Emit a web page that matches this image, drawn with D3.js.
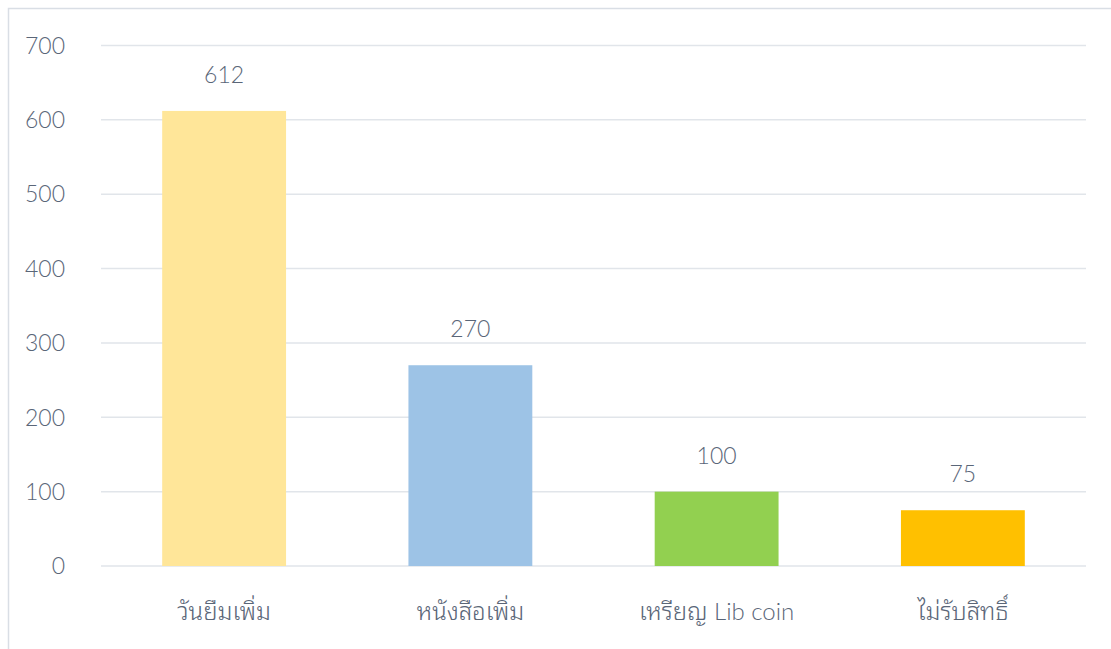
<!DOCTYPE html>
<html>
<head>
<meta charset="utf-8">
<script src="https://cdn.jsdelivr.net/npm/d3@7"></script>
<style>
  body { margin: 0; background: #fff; }
  text { font-family: Lato, "Noto Sans", "DejaVu Sans", sans-serif; fill: #5a6678; font-weight: 300; }
  tspan.thai { font-family: "Noto Sans Thai Looped", "Noto Sans Thai", sans-serif; font-weight: 300; }
</style>
</head>
<body>
<div id="chart"></div>
<script>
// chart data
const categories = ["วันยืมเพิ่ม", "หนังสือเพิ่ม", "เหรียญ Lib coin", "ไม่รับสิทธิ์"];
const values = [612, 270, 100, 75];
const colors = ["#ffe699", "#9dc3e6", "#92d050", "#ffc000"];
const yTicks = [0, 100, 200, 300, 400, 500, 600, 700];

const W = 1111, H = 649;
const MARGIN = { top: 45.5, right: 25, bottom: 83, left: 101 };

const svg = d3.select("#chart").append("svg")
  .attr("width", W).attr("height", H);

// outer chart border (runs off the page at right and bottom)
svg.append("rect")
  .attr("x", 8.5).attr("y", 8.5)
  .attr("width", W).attr("height", H)
  .attr("fill", "none").attr("stroke", "#d9dee5").attr("stroke-width", 1.5);

const x = d3.scaleBand()
  .domain(categories)
  .range([MARGIN.left, W - MARGIN.right])
  .paddingInner(0.497).paddingOuter(0.2485);

const y = d3.scaleLinear()
  .domain([0, 700])
  .range([H - MARGIN.bottom, MARGIN.top]);

// gridlines
svg.append("g").selectAll("line").data(yTicks).join("line")
  .attr("x1", MARGIN.left).attr("x2", W - MARGIN.right)
  .attr("y1", (d) => y(d)).attr("y2", (d) => y(d))
  .attr("stroke", "#e1e5ea").attr("stroke-width", 1.5);

// y tick labels
svg.append("g").selectAll("text").data(yTicks).join("text")
  .attr("x", 65).attr("y", (d) => y(d))
  .attr("dy", "0.36em")
  .attr("text-anchor", "end")
  .attr("font-size", 23)
  .text((d) => d);

// bars
svg.append("g").selectAll("rect").data(values).join("rect")
  .attr("x", (d, i) => x(categories[i]))
  .attr("width", x.bandwidth())
  .attr("y", (d) => y(d))
  .attr("height", (d) => y(0) - y(d))
  .attr("fill", (d, i) => colors[i]);

// value labels
svg.append("g").selectAll("text").data(values).join("text")
  .attr("x", (d, i) => x(categories[i]) + x.bandwidth() / 2)
  .attr("y", (d) => y(d) - 28)
  .attr("text-anchor", "middle")
  .attr("font-size", 23)
  .text((d) => d);

// category labels - thai runs and latin runs get their own weight
const cat = svg.append("g").selectAll("text").data(categories).join("text")
  .attr("x", (d) => x(d) + x.bandwidth() / 2)
  .attr("y", H - MARGIN.bottom + 54)
  .attr("text-anchor", "middle")
  .attr("font-size", 24);
cat.selectAll("tspan")
  .data((d) => d.match(/[\u0E00-\u0E7F]+|[^\u0E00-\u0E7F]+/g))
  .join("tspan")
  .attr("class", (s) => (/[\u0E00-\u0E7F]/.test(s) ? "thai" : null))
  .text((s) => s);
</script>
</body>
</html>
